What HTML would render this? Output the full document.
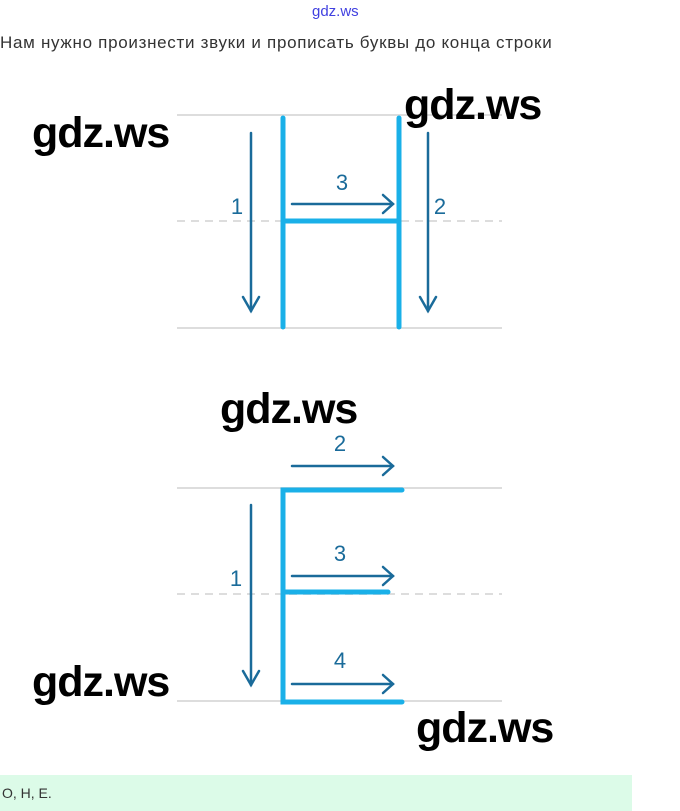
<!DOCTYPE html>
<html><head><meta charset="utf-8"><style>
body{margin:0;width:680px;height:811px;background:#fff;position:relative;overflow:hidden;font-family:"Liberation Sans",sans-serif}
.wm{position:absolute;font-family:"Liberation Sans",sans-serif;font-weight:bold;font-size:43px;color:#000;letter-spacing:-1px;line-height:1}
</style></head><body>
<div style="position:absolute;left:312px;top:3px;font-size:15px;color:#4040e0;">gdz.ws</div>
<div style="position:absolute;left:0;top:33px;font-size:17px;letter-spacing:0.7px;color:#333;">Нам нужно произнести звуки и прописать буквы до конца строки</div>
<svg width="680" height="811" style="position:absolute;left:0;top:0" font-family="Liberation Sans Narrow, Liberation Sans, sans-serif">
<g stroke="#ddd" stroke-width="2">
<line x1="177" y1="115" x2="502" y2="115"/><line x1="177" y1="221" x2="502" y2="221" stroke-dasharray="8,6"/><line x1="177" y1="328" x2="502" y2="328"/>
<line x1="177" y1="488" x2="502" y2="488"/><line x1="177" y1="594" x2="502" y2="594" stroke-dasharray="8,6"/><line x1="177" y1="701" x2="502" y2="701"/>
</g>
<g stroke="#1ab0e8" stroke-width="5" stroke-linecap="round" fill="none">
<line x1="283" y1="118" x2="283" y2="327"/><line x1="399" y1="118" x2="399" y2="327"/><line x1="283" y1="221" x2="399" y2="221"/>
<polyline points="402,490 283,490 283,702 402,702"/><line x1="283" y1="592" x2="388" y2="592"/>
</g>
<g stroke="#1a6b9a" stroke-width="2.5" fill="none" stroke-linecap="round">
<line x1="251" y1="133" x2="251" y2="311"/><polyline points="243,297 251,311 259,297"/>
<line x1="428" y1="133" x2="428" y2="311"/><polyline points="420,297 428,311 436,297"/>
<line x1="292" y1="204" x2="393" y2="204"/><polyline points="383,195 393,204 383,213"/>
<line x1="251" y1="505" x2="251" y2="685"/><polyline points="243,671 251,685 259,671"/>
<line x1="292" y1="466" x2="393" y2="466"/><polyline points="383,457 393,466 383,475"/>
<line x1="292" y1="576" x2="393" y2="576"/><polyline points="383,567 393,576 383,585"/>
<line x1="292" y1="684" x2="393" y2="684"/><polyline points="383,675 393,684 383,693"/>
</g>
<g fill="#1a6b9a" font-size="22" text-anchor="middle">
<text x="237" y="214">1</text><text x="342" y="190">3</text><text x="440" y="214">2</text>
<text x="340" y="451">2</text><text x="340" y="561">3</text><text x="236" y="586">1</text><text x="340" y="668">4</text>
</g>
</svg>
<div class="wm" style="left:32px;top:112px">gdz.ws</div>
<div class="wm" style="left:404px;top:84px">gdz.ws</div>
<div class="wm" style="left:220px;top:388px">gdz.ws</div>
<div class="wm" style="left:32px;top:661px">gdz.ws</div>
<div class="wm" style="left:416px;top:707px">gdz.ws</div>
<div style="position:absolute;left:0;top:775px;width:632px;height:36px;background:#dcfbe8;"></div>
<div style="position:absolute;left:2px;top:785px;font-size:14px;color:#333;">О, Н, Е.</div>
</body></html>
